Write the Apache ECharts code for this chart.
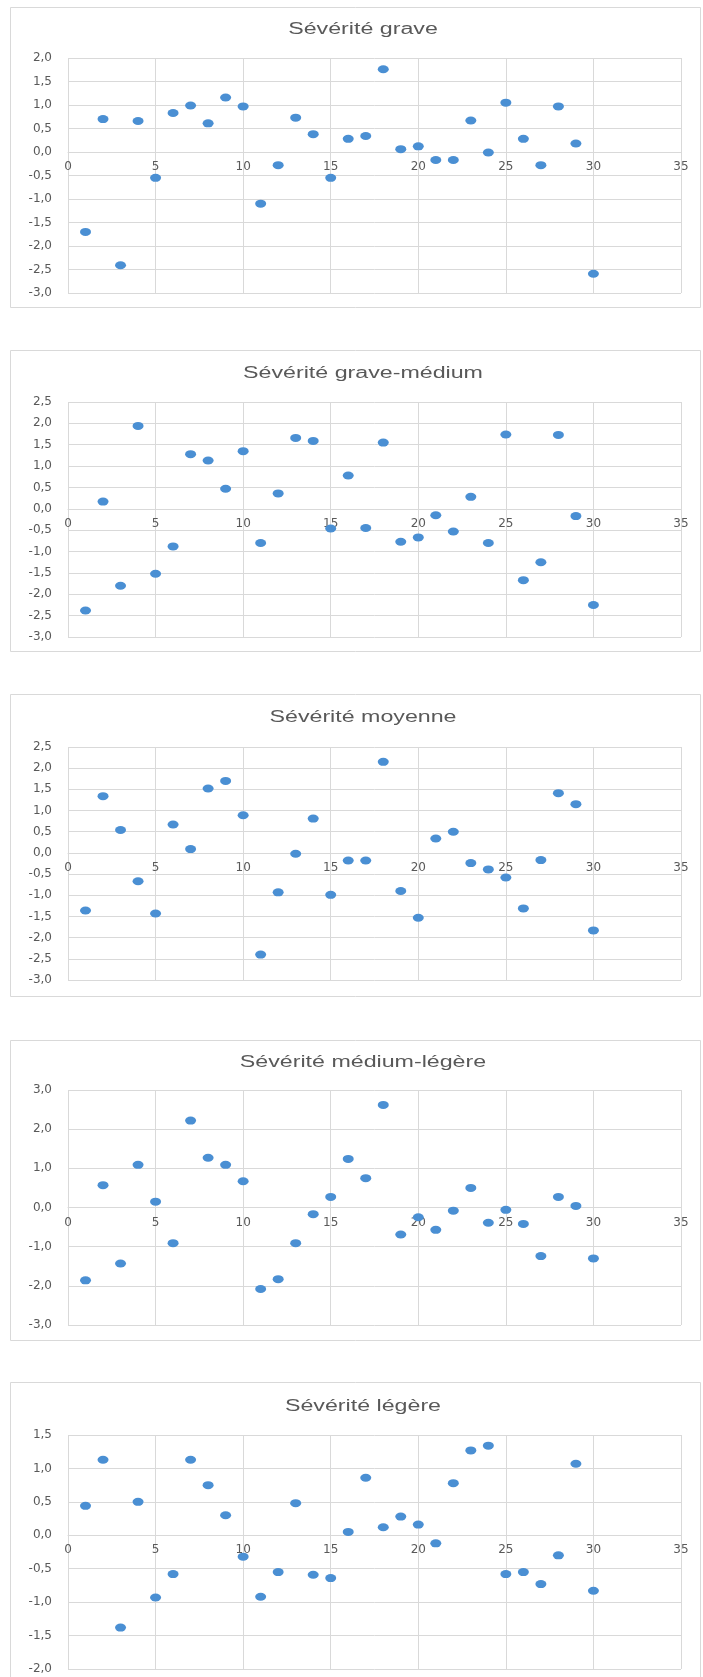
<!DOCTYPE html>
<html>
<head>
<meta charset="utf-8">
<script src="https://cdn.jsdelivr.net/npm/echarts@6/dist/echarts.min.js"></script>
<style>
html,body{margin:0;padding:0;background:#fff;}
#chart{width:703px;height:1677px;}
</style>
</head>
<body>
<div id="chart"></div>
<script>
// ---- data ----
const xValues = [1,2,3,4,5,6,7,8,9,10,11,12,13,14,15,16,17,18,19,20,21,22,23,24,25,26,27,28,29,30];
const sevGrave = [-1.70,0.70,-2.41,0.66,-0.55,0.83,0.99,0.61,1.16,0.97,-1.10,-0.28,0.73,0.38,-0.55,0.28,0.34,1.76,0.06,0.12,-0.17,-0.17,0.67,-0.01,1.05,0.28,-0.28,0.97,0.18,-2.59];
const sevGraveMedium = [-2.38,0.17,-1.80,1.94,-1.52,-0.88,1.28,1.13,0.47,1.35,-0.80,0.36,1.66,1.59,-0.46,0.78,-0.45,1.55,-0.77,-0.67,-0.15,-0.53,0.28,-0.80,1.74,-1.67,-1.25,1.73,-0.17,-2.25];
const sevMoyenne = [-1.36,1.34,0.54,-0.67,-1.43,0.67,0.09,1.52,1.70,0.89,-2.40,-0.93,-0.02,0.81,-0.99,-0.18,-0.18,2.15,-0.90,-1.53,0.34,0.50,-0.24,-0.39,-0.58,-1.31,-0.17,1.41,1.15,-1.83];
const sevMediumLegere = [-1.86,0.57,-1.43,1.09,0.15,-0.91,2.22,1.27,1.09,0.67,-2.08,-1.83,-0.91,-0.17,0.27,1.24,0.75,2.62,-0.69,-0.25,-0.57,-0.08,0.50,-0.39,-0.06,-0.42,-1.24,0.27,0.04,-1.30];
const sevLegere = [0.44,1.13,-1.38,0.50,-0.93,-0.58,1.13,0.75,0.30,-0.32,-0.92,-0.55,0.48,-0.59,-0.64,0.05,0.86,0.12,0.28,0.16,-0.12,0.78,1.27,1.34,-0.58,-0.55,-0.73,-0.30,1.07,-0.83];

const titles = ['Sévérité grave','Sévérité grave-médium','Sévérité moyenne','Sévérité médium-légère','Sévérité légère'];
const seriesValues = [sevGrave, sevGraveMedium, sevMoyenne, sevMediumLegere, sevLegere];
const yMins = [-3,-3,-3,-3,-2];
const yMaxs = [2,2.5,2.5,3,1.5];
const yIntervals = [0.5,0.5,0.5,1,0.5];
const xMin = 0, xMax = 35, xInterval = 5;

// ---- layout ----
const gridTops = [58,402,747,1090,1435];
const gridHeights = [235,235,233,235,234];
const frameTops = [7,350,694,1040,1382];
const frameHeights = [300,301,302,300,300];
const titleYs = [30,374,718,1063,1407];

const gridColor = '#d9d9d9';
const labelColor = '#595959';
const dotColor = '#4a8fd3';
const labelFont = 'DejaVu Sans';

const fmt = v => v.toFixed(1).replace('.', ',');

const grids = [], xAxes = [], yAxes = [], series = [], graphics = [];
for (let i = 0; i < 5; i++) {
  grids.push({left: 68, right: 22, top: gridTops[i], height: gridHeights[i], containLabel: false});
  // place the x axis on the y = 0 line (Excel-style crossing)
  const zeroOffset = -gridHeights[i] * (0 - yMins[i]) / (yMaxs[i] - yMins[i]);
  xAxes.push({
    type: 'value', gridIndex: i, min: xMin, max: xMax, interval: xInterval,
    position: 'bottom', offset: zeroOffset,
    axisLine: {show: true, onZero: false, lineStyle: {color: gridColor, width: 1}},
    axisTick: {show: false},
    axisLabel: {color: labelColor, fontSize: 12, fontFamily: labelFont, margin: 9, showMinLabel: true, showMaxLabel: true},
    splitLine: {show: true, lineStyle: {color: gridColor, width: 1}}
  });
  yAxes.push({
    type: 'value', gridIndex: i, min: yMins[i], max: yMaxs[i], interval: yIntervals[i],
    axisLine: {show: false, onZero: false}, axisTick: {show: false},
    axisLabel: {color: labelColor, fontSize: 12, fontFamily: labelFont, margin: 16, formatter: fmt},
    splitLine: {show: true, lineStyle: {color: gridColor, width: 1}}
  });
  series.push({
    type: 'scatter', xAxisIndex: i, yAxisIndex: i,
    symbol: 'circle', symbolSize: [11, 8],
    itemStyle: {color: dotColor, opacity: 1},
    data: xValues.map((x, k) => [x, seriesValues[i][k]])
  });
  graphics.push({
    type: 'rect', z: -100, silent: true,
    shape: {x: 10.5, y: frameTops[i] + 0.5, width: 690, height: frameHeights[i]},
    style: {fill: '#ffffff', stroke: gridColor, lineWidth: 1}
  });
  graphics.push({
    type: 'text', x: 363, y: titleYs[i], scaleX: 1.45, silent: true,
    style: {text: titles[i], fontSize: 16, fontFamily: 'Liberation Sans', fill: labelColor,
            align: 'center', verticalAlign: 'middle', textAlign: 'center', textVerticalAlign: 'middle'}
  });
}

const chart = echarts.init(document.getElementById('chart'), null, {renderer: 'canvas'});
chart.setOption({
  backgroundColor: '#ffffff',
  animation: false,
  grid: grids,
  xAxis: xAxes,
  yAxis: yAxes,
  series: series,
  graphic: {elements: graphics}
});
</script>
</body>
</html>
